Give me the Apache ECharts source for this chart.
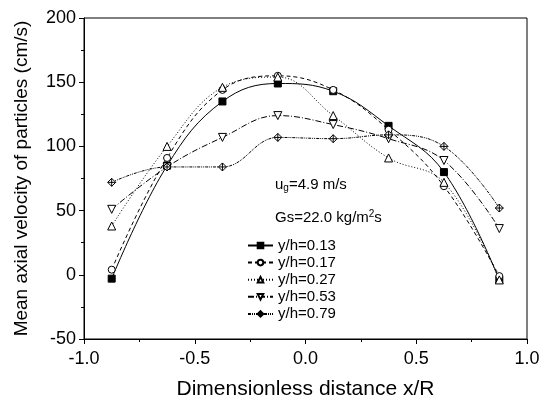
<!DOCTYPE html>
<html>
<head>
<meta charset="utf-8">
<script src="https://cdn.jsdelivr.net/npm/echarts@6/dist/echarts.min.js"></script>
<style>
  body { margin: 0; background: #fff; }
  #main { width: 547px; height: 405px; }
</style>
</head>
<body>
<div id="main"></div>
<script>
// x/R positions of the measuring points
var xPos = [-0.875, -0.625, -0.375, -0.125, 0.125, 0.375, 0.625, 0.875];
// mean axial velocity (cm/s) for each height
var v013 = [-3, 85, 135, 149, 143, 116, 80, -4];
var v017 = [4, 91, 144, 155, 144, 113, 69, -1];
var v027 = [38, 100, 146, 154, 124, 91, 72, -4];
var v053 = [51, 84, 107, 124, 117, 106, 89, 36];
var v079 = [72, 84, 84, 107, 106, 109, 100, 52];
var names = ['y/h=0.13', 'y/h=0.17', 'y/h=0.27', 'y/h=0.53', 'y/h=0.79'];

var font = 'Liberation Sans';
var diamondCross = 'path://M0,-10L10,0L0,10L-10,0Z M-10,0L10,0 M0,-10L0,10';

function pairs(vals) {
  var out = [];
  for (var i = 0; i < xPos.length; i++) {
    out.push([xPos[i], vals[i]]);
  }
  return out;
}

function mk(name, vals, sym, dash, filled, size) {
  return {
    name: name,
    type: 'line',
    smooth: 0.4,
    data: pairs(vals),
    symbol: sym,
    symbolSize: size,
    lineStyle: { color: '#000', width: 1, type: dash },
    itemStyle: { color: filled ? '#000' : '#fff', borderColor: '#000', borderWidth: 1 },
    z: 3
  };
}

var chart = echarts.init(document.getElementById('main'));
chart.setOption({
  animation: false,
  backgroundColor: '#fff',
  grid: {
    left: 84, right: 20, top: 18, bottom: 63,
    show: true, borderColor: '#000', borderWidth: 1
  },
  xAxis: {
    type: 'value',
    min: -1, max: 1, interval: 0.5,
    name: 'Dimensionless distance x/R',
    nameLocation: 'middle',
    nameGap: 40,
    nameTextStyle: { fontFamily: font, fontSize: 21, color: '#000' },
    axisLine: { onZero: false, lineStyle: { color: '#000', width: 1 } },
    axisTick: { inside: false, length: 5, lineStyle: { color: '#000' } },
    minorTick: { show: true, splitNumber: 2, length: 3, lineStyle: { color: '#000' } },
    axisLabel: {
      fontFamily: font, fontSize: 18, color: '#000', margin: 11,
      formatter: function (v) { return v.toFixed(1); }
    },
    splitLine: { show: false }
  },
  yAxis: {
    type: 'value',
    min: -50, max: 200, interval: 50,
    name: 'Mean axial velocity of particles (cm/s)',
    nameLocation: 'middle',
    nameGap: 53,
    nameTextStyle: { fontFamily: font, fontSize: 19, color: '#000' },
    axisLine: { show: true, onZero: false, lineStyle: { color: '#000', width: 1 } },
    axisTick: { show: true, inside: false, length: 5, lineStyle: { color: '#000' } },
    minorTick: { show: true, splitNumber: 2, length: 3, lineStyle: { color: '#000' } },
    axisLabel: { fontFamily: font, fontSize: 18, color: '#000', margin: 8 },
    splitLine: { show: false }
  },
  legend: {
    orient: 'vertical',
    left: 242, top: 233,
    itemWidth: 25, itemHeight: 7, itemGap: 2.1,
    textStyle: { fontFamily: font, fontSize: 15, color: '#000' },
    data: names
  },
  graphic: [
    {
      type: 'text', left: 275, top: 177,
      style: {
        text: '{a|u}{s|g}{a|=4.9 m/s}',
        rich: {
          a: { fontFamily: font, fontSize: 15, fill: '#000' },
          s: { fontFamily: font, fontSize: 10, fill: '#000', verticalAlign: 'bottom', padding: [8, 0, 0, 0] }
        }
      }
    },
    {
      type: 'text', left: 275, top: 209,
      style: {
        text: '{a|Gs=22.0 kg/m}{p|2}{a|s}',
        rich: {
          a: { fontFamily: font, fontSize: 15, fill: '#000' },
          p: { fontFamily: font, fontSize: 10, fill: '#000', verticalAlign: 'top', padding: [0, 0, 8, 0] }
        }
      }
    }
  ],
  series: [
    mk(names[0], v013, 'rect', 'solid', true, 7),
    mk(names[1], v017, 'circle', [4, 3], false, 7),
    mk(names[2], v027, 'triangle', [1, 2], false, 8),
    mk(names[3], v053, 'path://M-10,-10L10,-10L0,10Z', [6, 2, 1, 2], false, 8),
    mk(names[4], v079, diamondCross, [3, 1, 1, 1, 1, 1], false, 8)
  ]
});
</script>
</body>
</html>
